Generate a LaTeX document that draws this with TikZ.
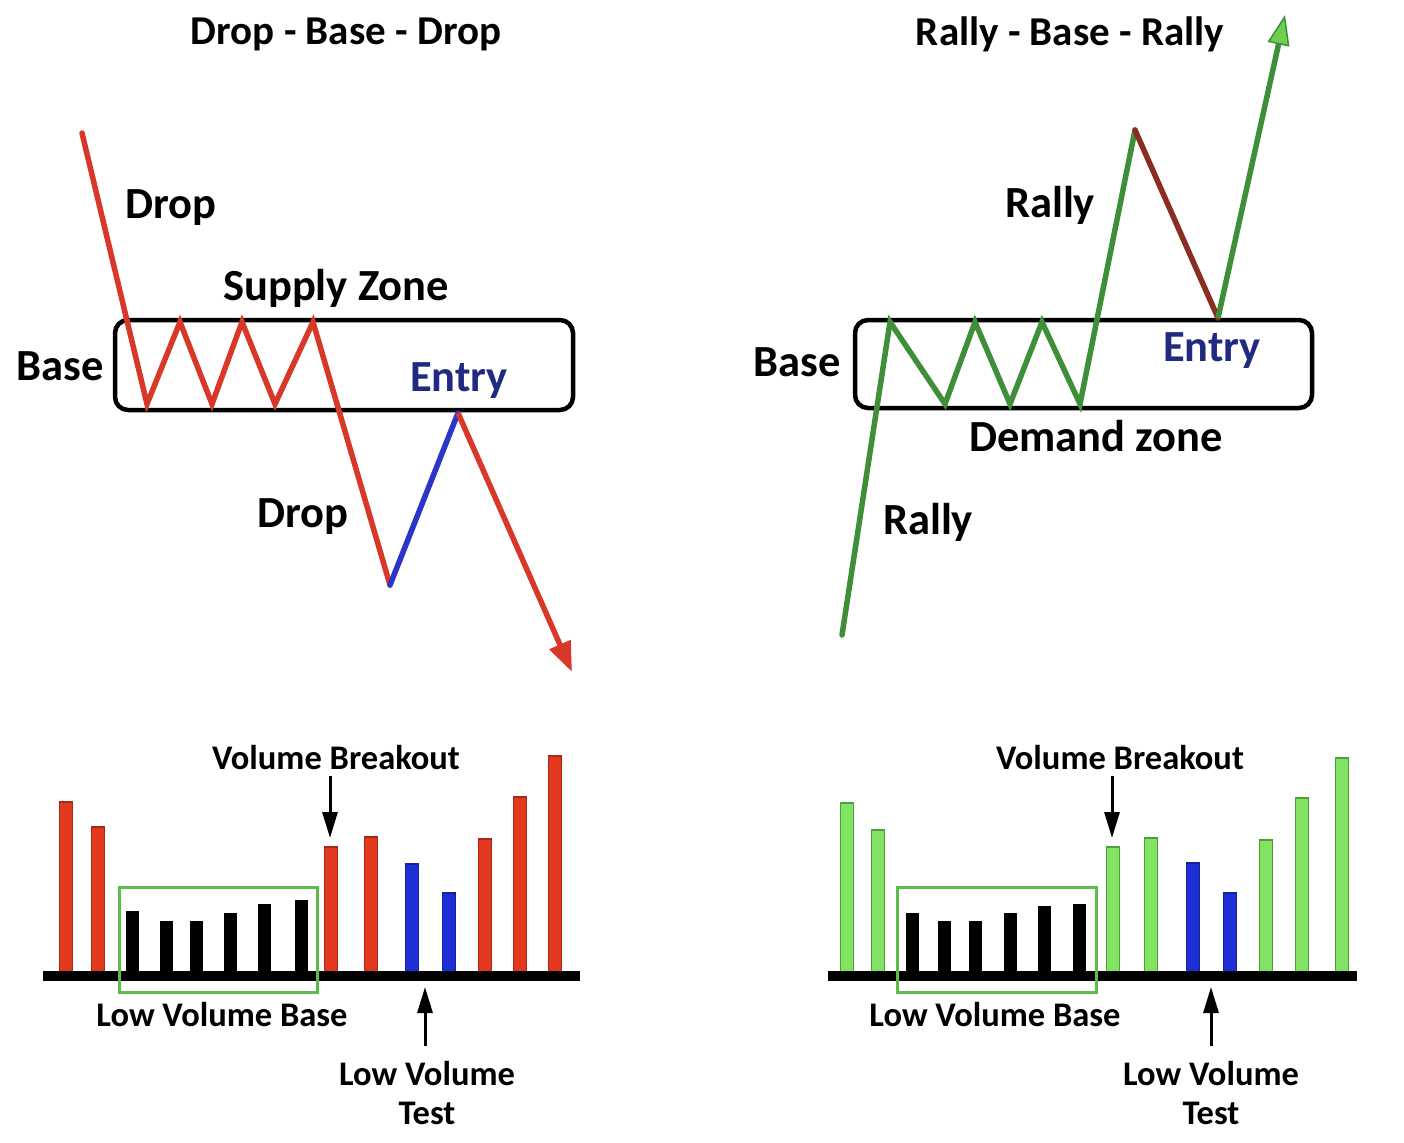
\documentclass[tikz,border=0pt]{standalone}
\usepackage{fontspec}
\setmainfont{Carlito}
\usetikzlibrary{arrows.meta}
\definecolor{redline}{HTML}{D8382A}
\definecolor{blueline}{HTML}{2B35C8}
\definecolor{greenline}{HTML}{3E8E3A}
\definecolor{maroonline}{HTML}{8A2E22}
\definecolor{entryblue}{HTML}{1F2A80}
\definecolor{redfill}{HTML}{E2391E}
\definecolor{rededge}{HTML}{A8281A}
\definecolor{greenfill}{HTML}{82E362}
\definecolor{greenedge}{HTML}{4E9E3C}
\definecolor{bluefill}{HTML}{1E2FD6}
\definecolor{boxgreen}{HTML}{5DBB4A}
\definecolor{arrowgreen}{HTML}{6FD050}
\tikzset{
  biglbl/.style={font=\fontsize{44.5}{50}\selectfont\bfseries, inner sep=0pt, anchor=base},
  titlelbl/.style={font=\fontsize{41}{46}\selectfont\bfseries, inner sep=0pt, anchor=base},
  smalllbl/.style={font=\fontsize{34.5}{39}\selectfont\bfseries, inner sep=0pt, anchor=base},
  zonebox/.style={draw=black, line width=4.5pt, rounded corners=13pt, inner sep=0pt},
  pline/.style={line width=5.5pt, line join=miter, line cap=round},
  redbar/.style={fill=redfill, draw=rededge, line width=1.2pt},
  grnbar/.style={fill=greenfill, draw=greenedge, line width=1.2pt},
  blubar/.style={fill=bluefill, draw=bluefill!70!black, line width=1.2pt},
  blkbar/.style={fill=black, draw=black, line width=1pt},
  lowbox/.style={draw=boxgreen, line width=3pt},
  axisline/.style={line width=10pt, draw=black},
  blkarrow/.style={line width=3pt, -{Triangle[length=26pt,width=15pt]}},
}
\begin{document}
\begin{tikzpicture}[x=1pt,y=-1pt]
\fill[white] (0,0) rectangle (1404,1142);
\useasboundingbox (0,0) rectangle (1404,1142);

% ---------- Titles ----------
\node[titlelbl] (titleL) at (346,45) {Drop - Base - Drop};
\node[titlelbl] (titleR) at (1070,46) {Rally - Base - Rally};

% ---------- Left: Drop-Base-Drop ----------
\node[zonebox, minimum width=458pt, minimum height=90pt] (zoneL) at (344,365) {};
\coordinate (a0) at (82,133);
\coordinate (a1) at (147,404);
\coordinate (a2) at (180,322);
\coordinate (a3) at (212,404);
\coordinate (a4) at (242,322);
\coordinate (a5) at (275,404);
\coordinate (a6) at (313,322);
\coordinate (a7) at (390,585);
\coordinate (a8) at (458,413);
\coordinate (a9) at (572,672);
\draw[pline, redline] (a0) -- (a1) -- (a2) -- (a3) -- (a4) -- (a5) -- (a6) -- (a7);
\draw[pline, blueline] (a7) -- (a8);
\draw[pline, redline, line cap=butt, -{Triangle[length=30pt,width=22pt]}] (a8) -- (a9);

\node[biglbl] (dropU) at (171,218) {Drop};
\node[biglbl] (supply) at (336,300) {Supply Zone};
\node[biglbl] (baseL) at (60,380) {Base};
\node[biglbl, text=entryblue] (entryL) at (459,391) {Entry};
\node[biglbl] (dropD) at (303,527) {Drop};

% ---------- Right: Rally-Base-Rally ----------
\node[zonebox, minimum width=457pt, minimum height=88pt] (zoneR) at (1083.5,364) {};
\coordinate (b0) at (842,635);
\coordinate (b1) at (890,322);
\coordinate (b2) at (945,404);
\coordinate (b3) at (975,322);
\coordinate (b4) at (1010,404);
\coordinate (b5) at (1042,322);
\coordinate (b6) at (1080,404);
\coordinate (b7) at (1135,130);
\coordinate (b8) at (1218,318);
\coordinate (b9) at (1285,15);
\draw[pline, greenline] (b0) -- (b1) -- (b2) -- (b3) -- (b4) -- (b5) -- (b6) -- (b7);
\draw[pline, maroonline] (b7) -- (b8);
\draw[pline, greenline, line cap=butt, -{Triangle[length=30pt,width=22pt,fill=arrowgreen,line width=1.5pt]}] (b8) -- (b9);

\node[biglbl] (rallyU) at (1050,217) {Rally};
\node[biglbl] (baseR) at (797,376) {Base};
\node[biglbl, text=entryblue] (entryR) at (1212,361) {Entry};
\node[biglbl] (demand) at (1096,451) {Demand zone};
\node[biglbl] (rallyD) at (928,534) {Rally};

% ---------- Left volume chart ----------
\foreach \x/\t in {66/802, 98/827, 331/847, 371/837, 485/839, 520/797, 555/756}
  \draw[redbar] (\x-6.5,\t) rectangle (\x+6.5,975);
\foreach \x/\t in {132/911, 166/921, 196/921, 230/913, 264/904, 301/900}
  \draw[blkbar] (\x-6,\t) rectangle (\x+6,975);
\foreach \x/\t in {412/864, 449/893}
  \draw[blubar] (\x-6.5,\t) rectangle (\x+6.5,975);
\draw[axisline] (43,976) -- (580,976);
\draw[lowbox] (119,887) rectangle (317,992);

\node[smalllbl] (vbL) at (336,769) {Volume Breakout};
\coordinate (vbLtip) at (330,838);
\draw[blkarrow] (330,776) -- (vbLtip);
\node[smalllbl] (lvbL) at (222,1026) {Low Volume Base};
\node[smalllbl] (lvtL) at (427,1085) {Low Volume};
\node[smalllbl] (testL) at (427,1124) {Test};
\coordinate (lvtLtip) at (425,987);
\draw[blkarrow] (425,1046) -- (lvtLtip);

% ---------- Right volume chart ----------
\foreach \x/\t in {847/803, 878/830, 1113/847, 1151/838, 1266/840, 1302/798, 1342/758}
  \draw[grnbar] (\x-6.5,\t) rectangle (\x+6.5,975);
\foreach \x/\t in {912/913, 944/921, 975/921, 1010/913, 1044/906, 1079/904}
  \draw[blkbar] (\x-6,\t) rectangle (\x+6,975);
\foreach \x/\t in {1193/863, 1230/893}
  \draw[blubar] (\x-6.5,\t) rectangle (\x+6.5,975);
\draw[axisline] (828,976) -- (1357,976);
\draw[lowbox] (897,887) rectangle (1096,992);

\node[smalllbl] (vbR) at (1120,769) {Volume Breakout};
\coordinate (vbRtip) at (1112,838);
\draw[blkarrow] (1112,776) -- (vbRtip);
\node[smalllbl] (lvbR) at (995,1026) {Low Volume Base};
\node[smalllbl] (lvtR) at (1211,1085) {Low Volume};
\node[smalllbl] (testR) at (1211,1124) {Test};
\coordinate (lvtRtip) at (1211,987);
\draw[blkarrow] (1211,1046) -- (lvtRtip);
\end{tikzpicture}
\end{document}
